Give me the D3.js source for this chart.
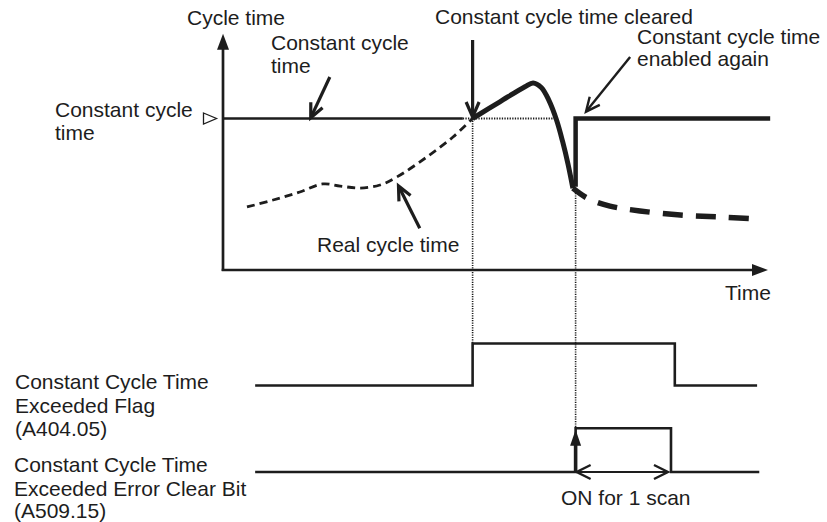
<!DOCTYPE html>
<html>
<head>
<meta charset="utf-8">
<script src="https://cdn.jsdelivr.net/npm/d3@7/dist/d3.min.js"></script>
<style>
  html, body { margin: 0; padding: 0; background: #fff; }
  svg text { font-family: "Liberation Sans", Arial, Helvetica, sans-serif; font-size: 21px; fill: #1d1d1d; }
</style>
</head>
<body>
<svg id="chart" width="827" height="522"></svg>
<script>
// ---- timing values (time in arbitrary units 0..100, cycle time in ms) ----
const constantCycleTime = 10;      // configured constant cycle time
const clearTime = 45.8;            // constant cycle time cleared
const enableTime = 64.7;           // constant cycle time enabled again
const axisTimeEnd = 100;
const axisCycleTop = 15.6;

// real cycle time before the constant cycle time is exceeded
const realCycleT  = [4.4, 9.2, 14.1, 18.3, 21.5, 25.1, 28.8, 31.9, 37.4, 42.2, 45.8];
const realCycleMs = [4.16, 4.62, 5.15, 5.68, 5.54, 5.41, 5.61, 6.14, 7.46, 8.78, 10.0];

// cycle time while the constant cycle time is cleared
const clearedT  = [45.8, 50.8, 55.4, 56.9, 58.4, 59.8, 61.2, 62.3, 63.3, 64.2];
const clearedMs = [10.0, 11.1, 12.1, 12.35, 12.05, 11.2, 9.9, 8.5, 7.0, 5.4];

// real cycle time after the constant cycle time is enabled again
const afterT  = [64.2, 66.8, 71.0, 76.5, 83.9, 91.2, 97.6];
const afterMs = [5.4, 4.75, 4.22, 3.9, 3.63, 3.5, 3.37];

// bit signals (step after each point)
const flagT      = [5.9, 45.8, 82.9, 98.0];
const flagState  = [0, 1, 0, 0];
const clearBitT     = [5.9, 64.7, 82.2, 98.4];
const clearBitState = [0, 1, 0, 0];

const svg = d3.select("#chart");
const ink = "#1d1d1d";

const x = d3.scaleLinear().domain([0, axisTimeEnd]).range([223, 768]);
const y = d3.scaleLinear().domain([0, constantCycleTime]).range([270, 118.5]);
const flagY = d3.scaleLinear().domain([0, 1]).range([385.5, 343.5]);
const clearY = d3.scaleLinear().domain([0, 1]).range([472, 428.3]);

const line = d3.line().x(d => x(d[0])).y(d => y(d[1]));
const zip = (a, b) => a.map((v, i) => [v, b[i]]);

// ---- helpers for arrowheads ----
function filledHead(tip, dir, len, half) {
  const [tx, ty] = tip, [dx, dy] = dir;
  const bx = tx - dx * len, by = ty - dy * len;
  const px = -dy, py = dx;
  return `M${tx},${ty}L${bx + px * half},${by + py * half}L${bx - px * half},${by - py * half}Z`;
}
function chevron(tip, dir, len, half) {
  const [tx, ty] = tip, [dx, dy] = dir;
  const bx = tx - dx * len, by = ty - dy * len;
  const px = -dy, py = dx;
  return `M${bx + px * half},${by + py * half}L${tx},${ty}L${bx - px * half},${by - py * half}`;
}
function arrow(from, to, width, len, half) {
  const dx = to[0] - from[0], dy = to[1] - from[1];
  const n = Math.hypot(dx, dy);
  const dir = [dx / n, dy / n];
  svg.append("line")
    .attr("x1", from[0]).attr("y1", from[1])
    .attr("x2", to[0] - dir[0] * 1.5).attr("y2", to[1] - dir[1] * 1.5)
    .attr("stroke", ink).attr("stroke-width", width);
  svg.append("path").attr("d", chevron(to, dir, len, half))
    .attr("fill", "none").attr("stroke", ink).attr("stroke-width", width)
    .attr("stroke-linejoin", "miter").attr("stroke-miterlimit", 10);
}

// ---- dotted guide lines at the two events ----
svg.append("line")
  .attr("x1", x(clearTime)).attr("x2", x(clearTime))
  .attr("y1", y(constantCycleTime)).attr("y2", flagY(1))
  .attr("stroke", ink).attr("stroke-width", 1.6).attr("stroke-dasharray", "1.2,1.2");
svg.append("line")
  .attr("x1", x(enableTime)).attr("x2", x(enableTime))
  .attr("y1", y(afterMs[0])).attr("y2", clearY(1))
  .attr("stroke", ink).attr("stroke-width", 1.6).attr("stroke-dasharray", "1.2,1.2");

// ---- axes ----
svg.append("line")
  .attr("x1", x(0)).attr("x2", x(0))
  .attr("y1", y(0) + 1).attr("y2", y(axisCycleTop) + 12)
  .attr("stroke", ink).attr("stroke-width", 2.7);
svg.append("path").attr("d", filledHead([x(0), y(axisCycleTop)], [0, -1], 16, 6)).attr("fill", ink);
svg.append("line")
  .attr("x1", x(0) - 1.3).attr("x2", x(axisTimeEnd) - 12)
  .attr("y1", y(0)).attr("y2", y(0))
  .attr("stroke", ink).attr("stroke-width", 2.7);
svg.append("path").attr("d", filledHead([x(axisTimeEnd), y(0)], [1, 0], 16, 6)).attr("fill", ink);

// ---- constant cycle time level ----
svg.append("line")
  .attr("x1", x(0)).attr("x2", x(44.0))
  .attr("y1", y(constantCycleTime)).attr("y2", y(constantCycleTime))
  .attr("stroke", ink).attr("stroke-width", 2.6);
svg.append("line")
  .attr("x1", x(44.0)).attr("x2", x(61.4))
  .attr("y1", y(constantCycleTime)).attr("y2", y(constantCycleTime))
  .attr("stroke", ink).attr("stroke-width", 2.2).attr("stroke-dasharray", "1.3,1.3");

// marker on the cycle time axis
svg.append("path")
  .attr("d", `M${x(0) - 19.5},${y(constantCycleTime) - 5.5}L${x(0) - 6.5},${y(constantCycleTime)}L${x(0) - 19.5},${y(constantCycleTime) + 5.5}Z`)
  .attr("fill", "none").attr("stroke", ink).attr("stroke-width", 1.3);

// ---- real cycle time (thin dashed) ----
svg.append("path")
  .attr("d", line.curve(d3.curveCatmullRom.alpha(0.5))(zip(realCycleT, realCycleMs)))
  .attr("fill", "none").attr("stroke", ink).attr("stroke-width", 2.8)
  .attr("stroke-dasharray", "8,5");

// ---- cycle time while cleared (thick solid) ----
svg.append("path")
  .attr("d", line.curve(d3.curveCatmullRom.alpha(0.5))(zip(clearedT, clearedMs)))
  .attr("fill", "none").attr("stroke", ink).attr("stroke-width", 5)
  .attr("stroke-linecap", "butt");

// ---- real cycle time after re-enable (thick dashed) ----
svg.append("path")
  .attr("d", line.curve(d3.curveCatmullRom.alpha(0.5))(zip(afterT, afterMs)))
  .attr("fill", "none").attr("stroke", ink).attr("stroke-width", 5.5)
  .attr("stroke-dasharray", "16,13,20,13,20,13,20,13,20,13,20,13");

// ---- constant cycle time enabled again (thick) ----
svg.append("path")
  .attr("d", `M${x(enableTime)},${y(5.5)}V${y(constantCycleTime)}H${x(100.4)}`)
  .attr("fill", "none").attr("stroke", ink).attr("stroke-width", 4.5)
  .attr("stroke-linejoin", "miter");

// ---- bit signals ----
const stepLine = d3.line().curve(d3.curveStepAfter).x(d => x(d[0]));
svg.append("path")
  .attr("d", stepLine.y(d => flagY(d[1]))(zip(flagT, flagState)))
  .attr("fill", "none").attr("stroke", ink).attr("stroke-width", 2.6);
svg.append("path")
  .attr("d", stepLine.y(d => clearY(d[1]))(zip(clearBitT, clearBitState)))
  .attr("fill", "none").attr("stroke", ink).attr("stroke-width", 2.6);

// rising edge arrow of the clear bit
svg.append("line")
  .attr("x1", x(enableTime)).attr("x2", x(enableTime))
  .attr("y1", clearY(0) + 1).attr("y2", clearY(1) + 12)
  .attr("stroke", ink).attr("stroke-width", 3.6);
svg.append("path").attr("d", filledHead([x(enableTime), clearY(1) + 1.5], [0, -1], 16, 5.5)).attr("fill", ink);

// "ON for 1 scan" span
const spanY = clearY(0);
svg.append("line")
  .attr("x1", x(enableTime) + 1).attr("x2", x(clearBitT[2]) - 3)
  .attr("y1", spanY).attr("y2", spanY)
  .attr("stroke", ink).attr("stroke-width", 2);
svg.append("path").attr("d", chevron([x(enableTime) + 1, spanY], [-1, 0], 14, 7))
  .attr("fill", "none").attr("stroke", ink).attr("stroke-width", 2.4);
svg.append("path").attr("d", chevron([x(clearBitT[2]) - 3, spanY], [1, 0], 14, 7))
  .attr("fill", "none").attr("stroke", ink).attr("stroke-width", 2.4);

// ---- callout arrows ----
arrow([x(19.6), y(12.74)], [x(16.1), y(10.05)], 3.2, 14, 6.5);          // constant cycle time
arrow([x(36.1), y(2.75)], [x(32.2), y(5.55)], 3.2, 14, 6.5);            // real cycle time
arrow([x(clearTime), 40], [x(clearTime), y(constantCycleTime) - 1.5], 3.2, 15, 6.5); // cleared
arrow([x(74.7), y(14.06)], [x(66.6), y(10.45)], 2.4, 14, 6.5);          // enabled again

// ---- text ----
const labels = [
  ["Cycle time", 187, 25],
  ["Constant cycle", 271, 50],
  ["time", 271, 73],
  ["Constant cycle", 55, 117],
  ["time", 55, 140],
  ["Constant cycle time cleared", 435, 24],
  ["Constant cycle time", 637, 44],
  ["enabled again", 637, 66],
  ["Real cycle time", 317, 252],
  ["Time", 725, 300],
  ["Constant Cycle Time", 15, 389],
  ["Exceeded Flag", 15, 413],
  ["(A404.05)", 15, 436],
  ["Constant Cycle Time", 14, 472],
  ["Exceeded Error Clear Bit", 14, 496],
  ["(A509.15)", 14, 518],
  ["ON for 1 scan", 561, 505]
];
svg.selectAll("text.lbl").data(labels).join("text")
  .attr("class", "lbl")
  .attr("x", d => d[1]).attr("y", d => d[2])
  .text(d => d[0]);
</script>
</body>
</html>
